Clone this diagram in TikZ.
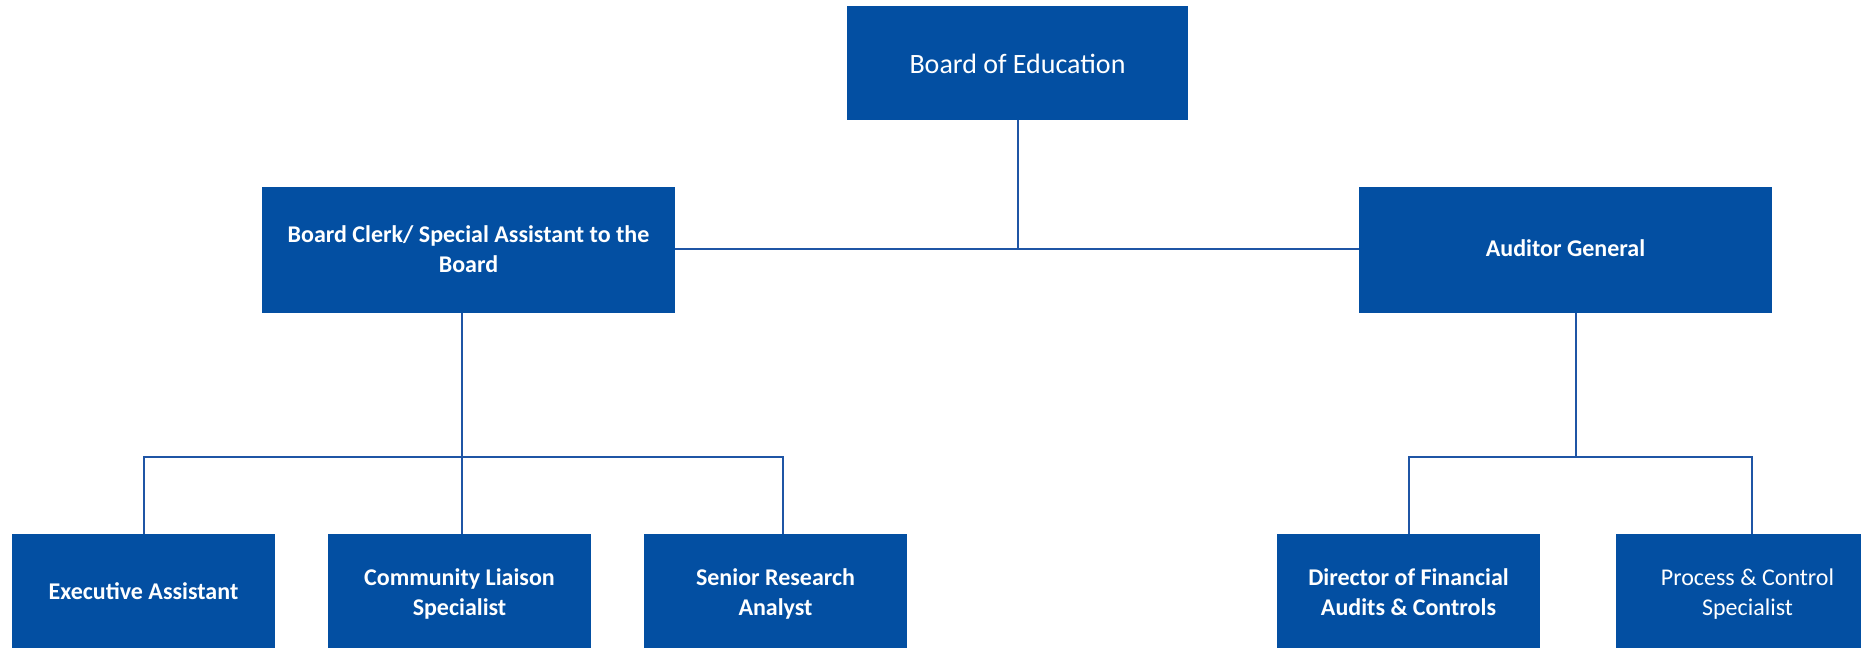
\documentclass[tikz,border=0pt]{standalone}
\usepackage{fontspec}
\setmainfont{Carlito}
\definecolor{boxblue}{HTML}{034FA2}
\definecolor{lineblue}{HTML}{1F55A5}
\begin{document}
\begin{tikzpicture}[x=1pt,y=-1pt,
  box/.style={fill=boxblue,draw=none,text=white,align=center,inner sep=0pt,
    font=\bfseries\fontsize{24}{30}\selectfont},
  top/.style={box,minimum width=413,minimum height=126},
  low/.style={box,minimum width=263,minimum height=118},
  one/.style={text height=17,text depth=5},
  two/.style={text height=61,text depth=17},
  reg/.style={font=\mdseries\fontsize{24}{30}\selectfont},
  conn/.style={draw=lineblue,line width=2pt}]
\useasboundingbox (0,0) rectangle (1861,648);
\node[box,minimum width=341,minimum height=114,font=\mdseries\fontsize{28}{34}\selectfont,
  text height=20,text depth=0] (boe) at (1017.5,63) {Board of Education};
\node[top,two] (clerk) at (468.5,250) {Board Clerk/ Special Assistant to the\\Board};
\node[top,one] (aud) at (1565.5,250) {Auditor General};
\node[low,one] (exec) at (143.5,593) {Executive Assistant};
\node[low,two] (comm) at (459.5,593) {Community Liaison\\Specialist};
\node[low,two] (sra) at (775.5,593) {Senior Research\\Analyst};
\node[low,two] (dir) at (1408.5,593) {Director of Financial\\Audits \& Controls};
\node[low,two,reg] (proc) at (1747.5,593) {Process \& Control\\Specialist};
% connectors
\coordinate (j0) at (1017.5,249);
\coordinate (jl) at (462,457);
\coordinate (jr) at (1576,457);
\draw[conn] (boe.south) -- (j0);
\draw[conn] (clerk.east |- j0) -- (aud.west |- j0);
\draw[conn] (clerk.south -| jl) -- (jl);
\draw[conn] (exec.north) |- (jl);
\draw[conn] (jl) -- (comm.north -| jl);
\draw[conn] (jl) -| ([xshift=7.5pt]sra.north);
\draw[conn] (aud.south -| jr) -- (jr);
\draw[conn] (dir.north) |- (jr);
\draw[conn] (jr) -| ([xshift=4.5pt]proc.north);
\end{tikzpicture}
\end{document}
